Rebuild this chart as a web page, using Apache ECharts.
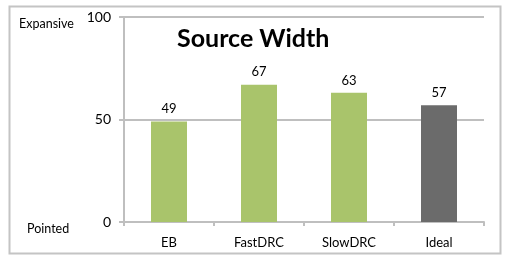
<!DOCTYPE html>
<html><head><meta charset="utf-8">
<script src="https://cdn.jsdelivr.net/npm/echarts@6/dist/echarts.min.js"></script>
<style>html,body{margin:0;padding:0;background:#fff}#c{width:511px;height:258px}</style>
</head><body><div id="c"></div>
<script>
const categories = ['EB', 'FastDRC', 'SlowDRC', 'Ideal'];
const values = [49, 67, 63, 57];
const barColors = ['#a9c46b', '#a9c46b', '#a9c46b', '#6b6b6b'];
const yTicks = [0, 50, 100];
const titleText = 'Source Width';
const topLabel = 'Expansive';
const bottomLabel = 'Pointed';

const font = 'Lato, "Open Sans", sans-serif';
const chart = echarts.init(document.getElementById('c'), null, {renderer: 'canvas'});
chart.setOption({
  animation: false,
  title: {
    text: titleText, left: 172, top: 21,
    textStyle: {fontFamily: font, fontSize: 25, fontWeight: 'bold', color: '#000'}
  },
  grid: {left: 124, top: 17, right: 27, bottom: 36, containLabel: false},
  xAxis: {
    type: 'category', data: categories,
    axisLine: {lineStyle: {color: '#bfbfbf', width: 2}},
    axisTick: {show: true, length: 4, alignWithLabel: false, lineStyle: {color: '#bfbfbf', width: 2}},
    axisLabel: {fontFamily: font, fontSize: 13, color: '#000', margin: 14}
  },
  yAxis: {
    type: 'value', min: yTicks[0], max: yTicks[yTicks.length - 1], interval: 50,
    axisLine: {show: true, lineStyle: {color: '#bfbfbf', width: 2}},
    axisTick: {show: true, length: 5, lineStyle: {color: '#bfbfbf', width: 2}},
    axisLabel: {fontFamily: font, fontSize: 14, color: '#000', margin: 13},
    splitLine: {show: true, lineStyle: {color: '#bfbfbf', width: 2}}
  },
  series: [{
    type: 'bar', barWidth: '40%',
    data: values.map((v, i) => ({value: v, itemStyle: {color: barColors[i]}})),
    label: {show: true, position: 'top', distance: 6, fontFamily: font, fontSize: 13, color: '#000'}
  }],
  graphic: [
    {type: 'rect', left: 7, top: 4, shape: {width: 491, height: 247},
     style: {fill: 'none', stroke: '#c4c4c4', lineWidth: 2}, silent: true},
    {type: 'text', left: 19, top: 17, style: {text: topLabel, font: '12.5px ' + font, fill: '#000'}},
    {type: 'text', left: 27, top: 222, style: {text: bottomLabel, font: '12.5px ' + font, fill: '#000'}}
  ]
});
</script></body></html>
